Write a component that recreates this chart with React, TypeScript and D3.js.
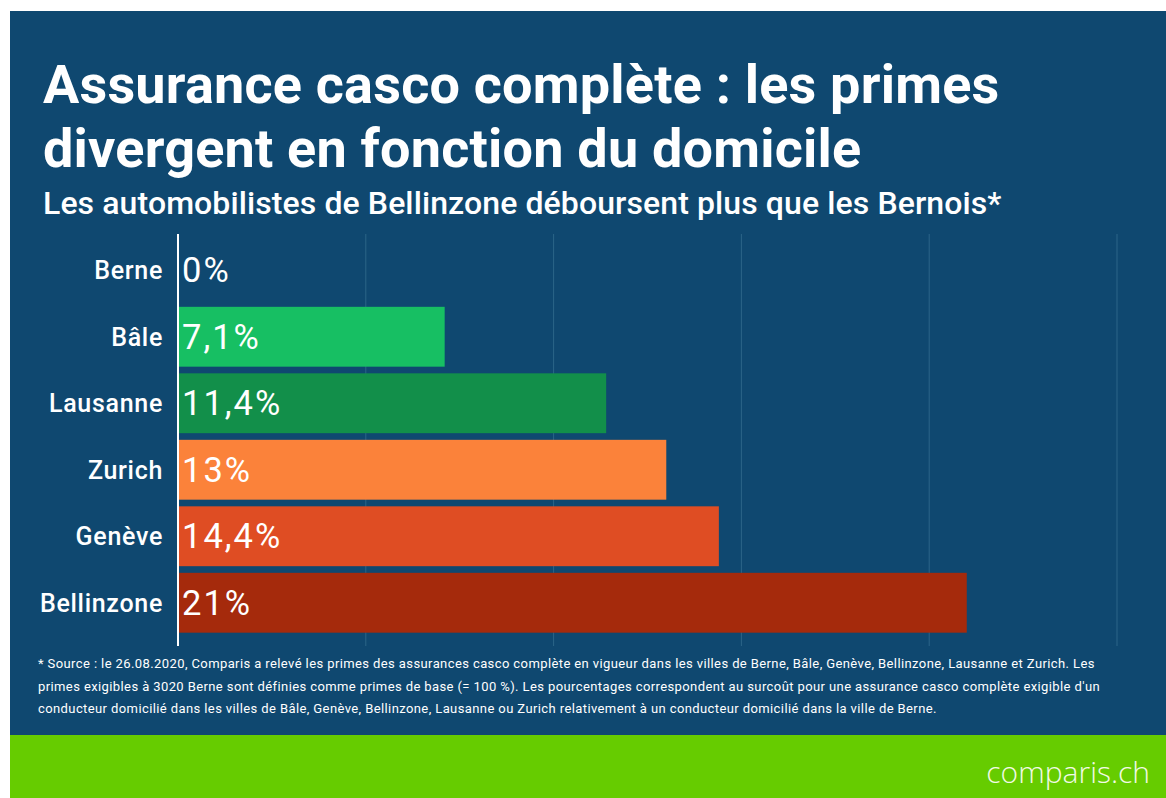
import React from "react";
import * as d3 from "d3";

const cities = ["Berne", "Bâle", "Lausanne", "Zurich", "Genève", "Bellinzone"];
const values = [0, 7.1, 11.4, 13, 14.4, 21];
const valueLabels = ["0%", "7,1%", "11,4%", "13%", "14,4%", "21%"];
const barColors = ["#17BF63", "#17BF63", "#128F4A", "#FB823A", "#DF4D23", "#A52A0C"];
const ticks = [0, 5, 10, 15, 20, 25];

const titleLines = ["Assurance casco complète : les primes", "divergent en fonction du domicile"];
const subtitle = "Les automobilistes de Bellinzone déboursent plus que les Bernois*";
const footnoteLines = [
  "* Source : le 26.08.2020, Comparis a relevé les primes des assurances casco complète en vigueur dans les villes de Berne, Bâle, Genève, Bellinzone, Lausanne et Zurich. Les",
  "primes exigibles à 3020 Berne sont définies comme primes de base (= 100 %). Les pourcentages correspondent au surcoût pour une assurance casco complète exigible d'un",
  "conducteur domicilié dans les villes de Bâle, Genève, Bellinzone, Lausanne ou Zurich relativement à un conducteur domicilié dans la ville de Berne.",
];

export default function App() {
  const W = 1166;
  const H = 798;
  const x = d3.scaleLinear().domain([0, 25]).range([178, 1117]);
  const y = d3.scaleBand<string>().domain(cities).range([237, 636]).paddingInner(0.1).paddingOuter(0.05);
  const font = "Roboto, 'Noto Sans', sans-serif";
  return (
    <svg width={W} height={H} style={{ position: "absolute", left: 0, top: 0, display: "block" }}>
      <rect x={0} y={0} width={W} height={H} fill="#ffffff" />
      <rect x={10} y={11} width={W - 10} height={725} fill="#0F4870" />
      <rect x={10} y={735} width={W - 10} height={H - 735} fill="#66CC00" />

      {titleLines.map((t, i) => (
        <text key={t} x={43} y={103 + i * 64} fill="#fff" fontFamily={font} fontWeight={700} fontSize={54} letterSpacing={0.2}>
          {t}
        </text>
      ))}
      <text x={43} y={214} fill="#fff" fontFamily={font} fontWeight={500} fontSize={32} letterSpacing={0.1}>
        {subtitle}
      </text>

      {ticks.slice(1).map((t) => (
        <line key={t} x1={x(t)} x2={x(t)} y1={234} y2={646} stroke="#2C6588" strokeWidth={1} />
      ))}

      {cities.map((c, i) => (
        <g key={c}>
          {values[i] > 0 && (
            <rect x={x(0)} y={y(c)} width={x(values[i]) - x(0)} height={y.bandwidth()} fill={barColors[i]} />
          )}
          <text
            x={163}
            y={(y(c) as number) + y.bandwidth() / 2 + 9}
            textAnchor="end"
            fill="#fff"
            fontFamily={font}
            fontWeight={500}
            fontSize={25}
            letterSpacing={0.7}
          >
            {c}
          </text>
          <text
            x={x(0) + 4}
            y={(y(c) as number) + y.bandwidth() / 2 + 12}
            fill="#fff"
            fontFamily={font}
            fontWeight={400}
            fontSize={34.5}
            letterSpacing={2}
          >
            {valueLabels[i]}
          </text>
        </g>
      ))}
      <line x1={x(0)} x2={x(0)} y1={234} y2={646} stroke="#fff" strokeWidth={2} />

      {footnoteLines.map((t, i) => (
        <text key={i} x={38} y={668 + i * 22.5} fill="#fff" fontFamily={font} fontSize={13} letterSpacing={0.4}>
          {t}
        </text>
      ))}

      <text x={1150} y={783} textAnchor="end" fill="#F2FAE6" fontFamily="'Open Sans', sans-serif" fontWeight={300} fontSize={30}>
        comparis.ch
      </text>
    </svg>
  );
}
